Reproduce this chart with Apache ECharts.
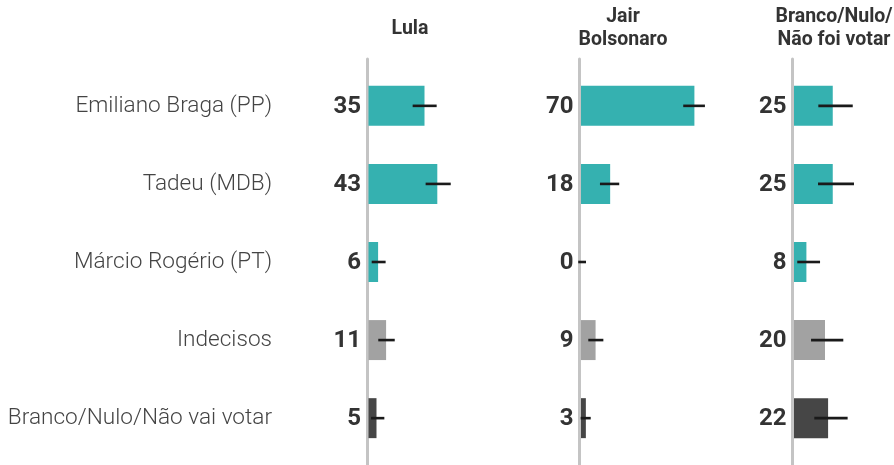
<!DOCTYPE html>
<html>
<head>
<meta charset="utf-8">
<script src="https://cdn.jsdelivr.net/npm/echarts@6/dist/echarts.min.js"></script>
<style>
  html, body { margin: 0; padding: 0; background: #fff; }
  #chart { width: 894px; height: 465px; }
</style>
</head>
<body>
<div id="chart"></div>
<script>
// dados
const categorias = ['Emiliano Braga (PP)', 'Tadeu (MDB)', 'Márcio Rogério (PT)', 'Indecisos', 'Branco/Nulo/Não vai votar'];
const paineis = ['Lula', 'Jair\nBolsonaro', 'Branco/Nulo/\nNão foi votar'];

const lula = [35, 43, 6, 11, 5];
const bolsonaro = [70, 18, 0, 9, 3];
const brancoNulo = [25, 25, 8, 20, 22];

// margem de erro (limite inferior / superior)
const lulaInf = [27.6, 35.7, 2.0, 6.1, 1.6];
const lulaSup = [42.6, 51.4, 10.7, 16.4, 9.9];
const bolsonaroInf = [63.1, 11.7, -1.7, 4.5, -0.2];
const bolsonaroSup = [76.5, 23.6, 3.1, 13.8, 6.0];
const brancoInf = [15.7, 15.5, 2.1, 11.0, 13.1];
const brancoSup = [37.9, 38.7, 16.8, 31.8, 34.6];

const cores = ['#35b1b0', '#35b1b0', '#35b1b0', '#a2a2a2', '#464646'];

const chart = echarts.init(document.getElementById('chart'));

// layout de cada painel (largura = max * px por ponto)
const grades = [
  { left: 367, max: 100, width: 160, titulo: 405 },
  { left: 579.5, max: 80, width: 129.6, titulo: 618 },
  { left: 792.5, max: 60, width: 93, titulo: 829 }
];
const valores = [lula, bolsonaro, brancoNulo];
const inferiores = [lulaInf, bolsonaroInf, brancoInf];
const superiores = [lulaSup, bolsonaroSup, brancoSup];

function desenhaBarra(params, api) {
  const i = api.value(0);
  const v = api.value(1);
  const p0 = api.coord([0, i]);
  const p1 = api.coord([v, i]);
  const h = api.size([0, 1])[1] * 0.512;
  return {
    type: 'group',
    children: [
      {
        type: 'rect',
        shape: { x: p0[0] + 1.5, y: p0[1] - h / 2, width: p1[0] - p0[0], height: h },
        style: { fill: cores[i] }
      },
      {
        type: 'text',
        style: {
          text: String(v), x: p0[0] - 6, y: p0[1] + 1,
          align: 'right', verticalAlign: 'middle',
          fontFamily: 'Roboto', fontWeight: 'bold', fontSize: 24, fill: '#333'
        }
      }
    ]
  };
}

function desenhaErro(params, api) {
  const i = api.value(0);
  const a = api.coord([api.value(1), i]);
  const b = api.coord([api.value(2), i]);
  return {
    type: 'line',
    shape: { x1: a[0] + 1.5, y1: a[1], x2: b[0] + 1.5, y2: b[1] },
    style: { stroke: '#1a1a1a', lineWidth: 2.6 },
    z2: 10
  };
}

const grid = [], xAxis = [], yAxis = [], series = [], title = [];
grades.forEach((g, k) => {
  grid.push({ left: g.left, width: g.width, top: 59, bottom: 0, outerBoundsMode: 'none' });
  xAxis.push({ type: 'value', gridIndex: k, min: 0, max: g.max, show: false });
  yAxis.push({
    type: 'value', gridIndex: k, inverse: true, min: -0.6, max: 4.6,
    axisLine: { show: true, lineStyle: { color: '#c4c4c4', width: 3 } },
    axisTick: { show: false },
    splitLine: { show: false },
    axisLabel: {
      show: k === 0,
      customValues: [0, 1, 2, 3, 4],
      formatter: (v) => categorias[Math.round(v)] || '',
      margin: 95,
      fontFamily: 'Roboto', fontWeight: 300, fontSize: 22.6, color: '#444'
    }
  });
  series.push({
    type: 'custom', xAxisIndex: k, yAxisIndex: k,
    renderItem: desenhaBarra,
    data: valores[k].map((v, i) => [i, v]),
    z: 3
  });
  series.push({
    type: 'custom', xAxisIndex: k, yAxisIndex: k,
    renderItem: desenhaErro,
    data: valores[k].map((v, i) => [i, inferiores[k][i], superiores[k][i]]),
    z: 4
  });
  const duasLinhas = paineis[k].indexOf('\n') >= 0;
  title.push({
    text: paineis[k],
    left: g.titulo,
    top: duasLinhas ? 1 : 13,
    textAlign: 'center',
    textStyle: { fontFamily: 'Roboto', fontWeight: 'bold', fontSize: 19.5, lineHeight: 23, color: '#333' }
  });
});

chart.setOption({
  animation: false,
  title: title,
  grid: grid,
  xAxis: xAxis,
  yAxis: yAxis,
  series: series
});
</script>
</body>
</html>
